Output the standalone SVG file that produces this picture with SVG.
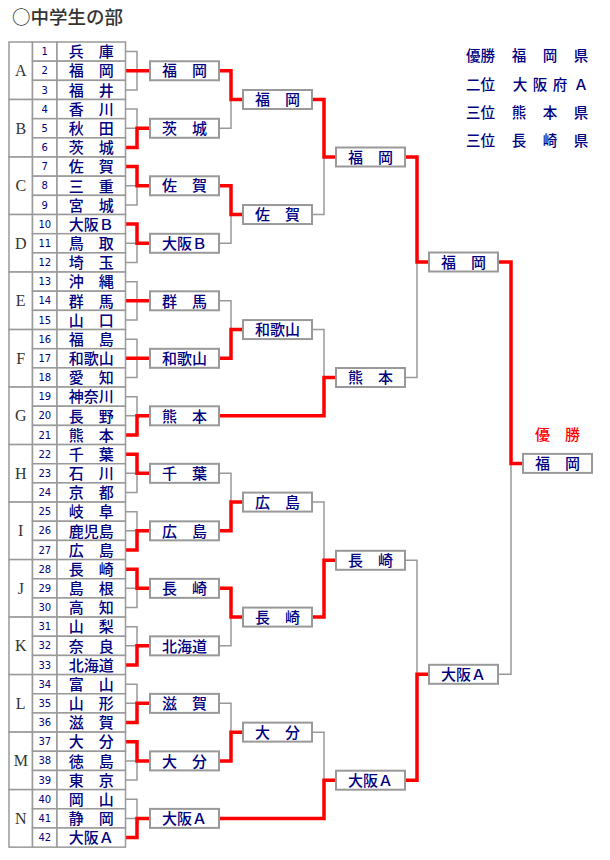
<svg xmlns="http://www.w3.org/2000/svg" width="610" height="860" viewBox="0 0 610 860">
<style>
.cell{fill:#fff;stroke:#999;stroke-width:1.5}
.box{fill:#fff;stroke:#999;stroke-width:2}
.num{font-family:"DejaVu Sans",sans-serif;font-size:10px;fill:#000080;text-anchor:middle}
.nm{font-family:"Noto Sans CJK JP",sans-serif;font-size:15px;font-weight:500;fill:#000080;text-anchor:middle}
.let{font-family:"Liberation Serif",serif;font-size:16px;fill:#333;text-anchor:middle}
.leg{font-family:"Noto Sans CJK JP",sans-serif;font-size:14.5px;font-weight:500;fill:#000080}
.gray{fill:none;stroke:#999;stroke-width:1.5}
.red{fill:none;stroke:#f00;stroke-width:3.5}
</style>
<rect width="610" height="860" fill="#fff"/>
<text x="12" y="23.5" style="font-family:'Noto Sans CJK JP',sans-serif;font-size:18.5px;font-weight:500;fill:#333">○中学生の部</text>

<g id="legend">
<text class="leg" x="466" y="61">優勝</text><text class="leg" text-anchor="middle" x="519 550 581" y="61">福岡県</text>
<text class="leg" x="466" y="89.5">二位</text><text class="leg" text-anchor="middle" x="520 540 560 581" y="89.5">大阪府Ａ</text>
<text class="leg" x="466" y="117.5">三位</text><text class="leg" text-anchor="middle" x="519 550 581" y="117.5">熊本県</text>
<text class="leg" x="466" y="146">三位</text><text class="leg" text-anchor="middle" x="519 550 581" y="146">長崎県</text>
</g>

<g id="connectors">
<path class="gray" d="M125.5,51.59H137V89.93H125.5M125.5,70.76H137M125.5,109.1H137V147.44H125.5M125.5,128.27H137M125.5,166.61H137V204.95H125.5M125.5,185.78H137M125.5,224.12H137V262.46H125.5M125.5,243.29H137M125.5,281.63H137V319.97H125.5M125.5,300.8H137M125.5,339.14H137V377.48H125.5M125.5,358.31H137M125.5,396.65H137V434.99H125.5M125.5,415.82H137M125.5,454.16H137V492.5H125.5M125.5,473.33H137M125.5,511.67H137V550.01H125.5M125.5,530.84H137M125.5,569.18H137V607.52H125.5M125.5,588.35H137M125.5,626.69H137V665.03H125.5M125.5,645.86H137M125.5,684.2H137V722.54H125.5M125.5,703.37H137M125.5,741.71H137V780.05H125.5M125.5,760.88H137M125.5,799.22H137V837.56H125.5M125.5,818.39H137"/>
<path class="gray" d="M219,70.76H231V128.27H219M219,185.78H231V243.29H219M219,300.8H231V358.31H219M219,473.33H231V530.84H219M219,588.35H231V645.86H219M219,703.37H231V760.88H219"/>
<path class="gray" d="M312,99.52H324V214.54H312M312,329.56H324V377.5M312,502.09H324V617.1H312M312,732.13H324V780.2"/>
<path class="gray" d="M405,157H417V377.5H405M405,560.3H417V780.2H405M498,262H511V674.3H498"/>
<path class="red" d="M125.5,70.76H150M125.5,147.44H137V128.27H150M125.5,166.61H137V185.78H150M125.5,224.12H137V243.29H150M125.5,300.8H150M125.5,358.31H150M125.5,434.99H137V415.82H150M125.5,454.16H137V473.33H150M125.5,550.01H137V530.84H150M125.5,569.18H137V588.35H150M125.5,665.03H137V645.86H150M125.5,722.54H137V703.37H150M125.5,741.71H137V760.88H150M125.5,837.56H137V818.39H150"/>
<path class="red" d="M219,70.76H231V99.52H243M219,185.78H231V214.54H243M219,358.31H231V329.56H243M219,530.84H231V502.09H243M219,588.35H231V617.1H243M219,760.88H231V732.13H243"/>
<path class="red" d="M312,99.52H324V157H336M219,415.82H324V377.5H336M312,617.1H324V560.3H336M219,818.39H324V780.2H336"/>
<path class="red" d="M405,157H417V262H429M405,780.2H417V674.3H429M498,262H511V463.4H523"/>
</g>

<g id="pool-A" transform="translate(0,42)">
<rect class="cell" x="9" width="23.5" height="57.51"/><text class="let" x="20.75" y="34.3">A</text>
<g><rect class="cell" x="32.5" width="24.5" height="19.17"/><rect class="cell" x="57" width="68.5" height="19.17"/><text class="num" x="44.75" y="13.2">1</text><text class="nm" x="91.25" y="15.3">兵　庫</text></g>
<g transform="translate(0,19.17)"><rect class="cell" x="32.5" width="24.5" height="19.17"/><rect class="cell" x="57" width="68.5" height="19.17"/><text class="num" x="44.75" y="13.2">2</text><text class="nm" x="91.25" y="15.3">福　岡</text></g>
<g transform="translate(0,38.34)"><rect class="cell" x="32.5" width="24.5" height="19.17"/><rect class="cell" x="57" width="68.5" height="19.17"/><text class="num" x="44.75" y="13.2">3</text><text class="nm" x="91.25" y="15.3">福　井</text></g>
</g>
<g id="pool-B" transform="translate(0,99.51)">
<rect class="cell" x="9" width="23.5" height="57.51"/><text class="let" x="20.75" y="34.3">B</text>
<g><rect class="cell" x="32.5" width="24.5" height="19.17"/><rect class="cell" x="57" width="68.5" height="19.17"/><text class="num" x="44.75" y="13.2">4</text><text class="nm" x="91.25" y="15.3">香　川</text></g>
<g transform="translate(0,19.17)"><rect class="cell" x="32.5" width="24.5" height="19.17"/><rect class="cell" x="57" width="68.5" height="19.17"/><text class="num" x="44.75" y="13.2">5</text><text class="nm" x="91.25" y="15.3">秋　田</text></g>
<g transform="translate(0,38.34)"><rect class="cell" x="32.5" width="24.5" height="19.17"/><rect class="cell" x="57" width="68.5" height="19.17"/><text class="num" x="44.75" y="13.2">6</text><text class="nm" x="91.25" y="15.3">茨　城</text></g>
</g>
<g id="pool-C" transform="translate(0,157.02)">
<rect class="cell" x="9" width="23.5" height="57.51"/><text class="let" x="20.75" y="34.3">C</text>
<g><rect class="cell" x="32.5" width="24.5" height="19.17"/><rect class="cell" x="57" width="68.5" height="19.17"/><text class="num" x="44.75" y="13.2">7</text><text class="nm" x="91.25" y="15.3">佐　賀</text></g>
<g transform="translate(0,19.17)"><rect class="cell" x="32.5" width="24.5" height="19.17"/><rect class="cell" x="57" width="68.5" height="19.17"/><text class="num" x="44.75" y="13.2">8</text><text class="nm" x="91.25" y="15.3">三　重</text></g>
<g transform="translate(0,38.34)"><rect class="cell" x="32.5" width="24.5" height="19.17"/><rect class="cell" x="57" width="68.5" height="19.17"/><text class="num" x="44.75" y="13.2">9</text><text class="nm" x="91.25" y="15.3">宮　城</text></g>
</g>
<g id="pool-D" transform="translate(0,214.53)">
<rect class="cell" x="9" width="23.5" height="57.51"/><text class="let" x="20.75" y="34.3">D</text>
<g><rect class="cell" x="32.5" width="24.5" height="19.17"/><rect class="cell" x="57" width="68.5" height="19.17"/><text class="num" x="44.75" y="13.2">10</text><text class="nm" x="91.25" y="15.3">大阪Ｂ</text></g>
<g transform="translate(0,19.17)"><rect class="cell" x="32.5" width="24.5" height="19.17"/><rect class="cell" x="57" width="68.5" height="19.17"/><text class="num" x="44.75" y="13.2">11</text><text class="nm" x="91.25" y="15.3">鳥　取</text></g>
<g transform="translate(0,38.34)"><rect class="cell" x="32.5" width="24.5" height="19.17"/><rect class="cell" x="57" width="68.5" height="19.17"/><text class="num" x="44.75" y="13.2">12</text><text class="nm" x="91.25" y="15.3">埼　玉</text></g>
</g>
<g id="pool-E" transform="translate(0,272.04)">
<rect class="cell" x="9" width="23.5" height="57.51"/><text class="let" x="20.75" y="34.3">E</text>
<g><rect class="cell" x="32.5" width="24.5" height="19.17"/><rect class="cell" x="57" width="68.5" height="19.17"/><text class="num" x="44.75" y="13.2">13</text><text class="nm" x="91.25" y="15.3">沖　縄</text></g>
<g transform="translate(0,19.17)"><rect class="cell" x="32.5" width="24.5" height="19.17"/><rect class="cell" x="57" width="68.5" height="19.17"/><text class="num" x="44.75" y="13.2">14</text><text class="nm" x="91.25" y="15.3">群　馬</text></g>
<g transform="translate(0,38.34)"><rect class="cell" x="32.5" width="24.5" height="19.17"/><rect class="cell" x="57" width="68.5" height="19.17"/><text class="num" x="44.75" y="13.2">15</text><text class="nm" x="91.25" y="15.3">山　口</text></g>
</g>
<g id="pool-F" transform="translate(0,329.55)">
<rect class="cell" x="9" width="23.5" height="57.51"/><text class="let" x="20.75" y="34.3">F</text>
<g><rect class="cell" x="32.5" width="24.5" height="19.17"/><rect class="cell" x="57" width="68.5" height="19.17"/><text class="num" x="44.75" y="13.2">16</text><text class="nm" x="91.25" y="15.3">福　島</text></g>
<g transform="translate(0,19.17)"><rect class="cell" x="32.5" width="24.5" height="19.17"/><rect class="cell" x="57" width="68.5" height="19.17"/><text class="num" x="44.75" y="13.2">17</text><text class="nm" x="91.25" y="15.3">和歌山</text></g>
<g transform="translate(0,38.34)"><rect class="cell" x="32.5" width="24.5" height="19.17"/><rect class="cell" x="57" width="68.5" height="19.17"/><text class="num" x="44.75" y="13.2">18</text><text class="nm" x="91.25" y="15.3">愛　知</text></g>
</g>
<g id="pool-G" transform="translate(0,387.06)">
<rect class="cell" x="9" width="23.5" height="57.51"/><text class="let" x="20.75" y="34.3">G</text>
<g><rect class="cell" x="32.5" width="24.5" height="19.17"/><rect class="cell" x="57" width="68.5" height="19.17"/><text class="num" x="44.75" y="13.2">19</text><text class="nm" x="91.25" y="15.3">神奈川</text></g>
<g transform="translate(0,19.17)"><rect class="cell" x="32.5" width="24.5" height="19.17"/><rect class="cell" x="57" width="68.5" height="19.17"/><text class="num" x="44.75" y="13.2">20</text><text class="nm" x="91.25" y="15.3">長　野</text></g>
<g transform="translate(0,38.34)"><rect class="cell" x="32.5" width="24.5" height="19.17"/><rect class="cell" x="57" width="68.5" height="19.17"/><text class="num" x="44.75" y="13.2">21</text><text class="nm" x="91.25" y="15.3">熊　本</text></g>
</g>
<g id="pool-H" transform="translate(0,444.57)">
<rect class="cell" x="9" width="23.5" height="57.51"/><text class="let" x="20.75" y="34.3">H</text>
<g><rect class="cell" x="32.5" width="24.5" height="19.17"/><rect class="cell" x="57" width="68.5" height="19.17"/><text class="num" x="44.75" y="13.2">22</text><text class="nm" x="91.25" y="15.3">千　葉</text></g>
<g transform="translate(0,19.17)"><rect class="cell" x="32.5" width="24.5" height="19.17"/><rect class="cell" x="57" width="68.5" height="19.17"/><text class="num" x="44.75" y="13.2">23</text><text class="nm" x="91.25" y="15.3">石　川</text></g>
<g transform="translate(0,38.34)"><rect class="cell" x="32.5" width="24.5" height="19.17"/><rect class="cell" x="57" width="68.5" height="19.17"/><text class="num" x="44.75" y="13.2">24</text><text class="nm" x="91.25" y="15.3">京　都</text></g>
</g>
<g id="pool-I" transform="translate(0,502.08)">
<rect class="cell" x="9" width="23.5" height="57.51"/><text class="let" x="20.75" y="34.3">I</text>
<g><rect class="cell" x="32.5" width="24.5" height="19.17"/><rect class="cell" x="57" width="68.5" height="19.17"/><text class="num" x="44.75" y="13.2">25</text><text class="nm" x="91.25" y="15.3">岐　阜</text></g>
<g transform="translate(0,19.17)"><rect class="cell" x="32.5" width="24.5" height="19.17"/><rect class="cell" x="57" width="68.5" height="19.17"/><text class="num" x="44.75" y="13.2">26</text><text class="nm" x="91.25" y="15.3">鹿児島</text></g>
<g transform="translate(0,38.34)"><rect class="cell" x="32.5" width="24.5" height="19.17"/><rect class="cell" x="57" width="68.5" height="19.17"/><text class="num" x="44.75" y="13.2">27</text><text class="nm" x="91.25" y="15.3">広　島</text></g>
</g>
<g id="pool-J" transform="translate(0,559.59)">
<rect class="cell" x="9" width="23.5" height="57.51"/><text class="let" x="20.75" y="34.3">J</text>
<g><rect class="cell" x="32.5" width="24.5" height="19.17"/><rect class="cell" x="57" width="68.5" height="19.17"/><text class="num" x="44.75" y="13.2">28</text><text class="nm" x="91.25" y="15.3">長　崎</text></g>
<g transform="translate(0,19.17)"><rect class="cell" x="32.5" width="24.5" height="19.17"/><rect class="cell" x="57" width="68.5" height="19.17"/><text class="num" x="44.75" y="13.2">29</text><text class="nm" x="91.25" y="15.3">島　根</text></g>
<g transform="translate(0,38.34)"><rect class="cell" x="32.5" width="24.5" height="19.17"/><rect class="cell" x="57" width="68.5" height="19.17"/><text class="num" x="44.75" y="13.2">30</text><text class="nm" x="91.25" y="15.3">高　知</text></g>
</g>
<g id="pool-K" transform="translate(0,617.1)">
<rect class="cell" x="9" width="23.5" height="57.51"/><text class="let" x="20.75" y="34.3">K</text>
<g><rect class="cell" x="32.5" width="24.5" height="19.17"/><rect class="cell" x="57" width="68.5" height="19.17"/><text class="num" x="44.75" y="13.2">31</text><text class="nm" x="91.25" y="15.3">山　梨</text></g>
<g transform="translate(0,19.17)"><rect class="cell" x="32.5" width="24.5" height="19.17"/><rect class="cell" x="57" width="68.5" height="19.17"/><text class="num" x="44.75" y="13.2">32</text><text class="nm" x="91.25" y="15.3">奈　良</text></g>
<g transform="translate(0,38.34)"><rect class="cell" x="32.5" width="24.5" height="19.17"/><rect class="cell" x="57" width="68.5" height="19.17"/><text class="num" x="44.75" y="13.2">33</text><text class="nm" x="91.25" y="15.3">北海道</text></g>
</g>
<g id="pool-L" transform="translate(0,674.61)">
<rect class="cell" x="9" width="23.5" height="57.51"/><text class="let" x="20.75" y="34.3">L</text>
<g><rect class="cell" x="32.5" width="24.5" height="19.17"/><rect class="cell" x="57" width="68.5" height="19.17"/><text class="num" x="44.75" y="13.2">34</text><text class="nm" x="91.25" y="15.3">富　山</text></g>
<g transform="translate(0,19.17)"><rect class="cell" x="32.5" width="24.5" height="19.17"/><rect class="cell" x="57" width="68.5" height="19.17"/><text class="num" x="44.75" y="13.2">35</text><text class="nm" x="91.25" y="15.3">山　形</text></g>
<g transform="translate(0,38.34)"><rect class="cell" x="32.5" width="24.5" height="19.17"/><rect class="cell" x="57" width="68.5" height="19.17"/><text class="num" x="44.75" y="13.2">36</text><text class="nm" x="91.25" y="15.3">滋　賀</text></g>
</g>
<g id="pool-M" transform="translate(0,732.12)">
<rect class="cell" x="9" width="23.5" height="57.51"/><text class="let" x="20.75" y="34.3">M</text>
<g><rect class="cell" x="32.5" width="24.5" height="19.17"/><rect class="cell" x="57" width="68.5" height="19.17"/><text class="num" x="44.75" y="13.2">37</text><text class="nm" x="91.25" y="15.3">大　分</text></g>
<g transform="translate(0,19.17)"><rect class="cell" x="32.5" width="24.5" height="19.17"/><rect class="cell" x="57" width="68.5" height="19.17"/><text class="num" x="44.75" y="13.2">38</text><text class="nm" x="91.25" y="15.3">徳　島</text></g>
<g transform="translate(0,38.34)"><rect class="cell" x="32.5" width="24.5" height="19.17"/><rect class="cell" x="57" width="68.5" height="19.17"/><text class="num" x="44.75" y="13.2">39</text><text class="nm" x="91.25" y="15.3">東　京</text></g>
</g>
<g id="pool-N" transform="translate(0,789.63)">
<rect class="cell" x="9" width="23.5" height="57.51"/><text class="let" x="20.75" y="34.3">N</text>
<g><rect class="cell" x="32.5" width="24.5" height="19.17"/><rect class="cell" x="57" width="68.5" height="19.17"/><text class="num" x="44.75" y="13.2">40</text><text class="nm" x="91.25" y="15.3">岡　山</text></g>
<g transform="translate(0,19.17)"><rect class="cell" x="32.5" width="24.5" height="19.17"/><rect class="cell" x="57" width="68.5" height="19.17"/><text class="num" x="44.75" y="13.2">41</text><text class="nm" x="91.25" y="15.3">静　岡</text></g>
<g transform="translate(0,38.34)"><rect class="cell" x="32.5" width="24.5" height="19.17"/><rect class="cell" x="57" width="68.5" height="19.17"/><text class="num" x="44.75" y="13.2">42</text><text class="nm" x="91.25" y="15.3">大阪Ａ</text></g>
</g>

<g id="r1-A" transform="translate(150,70.76)"><rect class="box" y="-9.5" width="69" height="19"/><text class="nm" x="34.5" y="5.7">福　岡</text></g>
<g id="r1-B" transform="translate(150,128.27)"><rect class="box" y="-9.5" width="69" height="19"/><text class="nm" x="34.5" y="5.7">茨　城</text></g>
<g id="r1-C" transform="translate(150,185.78)"><rect class="box" y="-9.5" width="69" height="19"/><text class="nm" x="34.5" y="5.7">佐　賀</text></g>
<g id="r1-D" transform="translate(150,243.29)"><rect class="box" y="-9.5" width="69" height="19"/><text class="nm" x="34.5" y="5.7">大阪Ｂ</text></g>
<g id="r1-E" transform="translate(150,300.8)"><rect class="box" y="-9.5" width="69" height="19"/><text class="nm" x="34.5" y="5.7">群　馬</text></g>
<g id="r1-F" transform="translate(150,358.31)"><rect class="box" y="-9.5" width="69" height="19"/><text class="nm" x="34.5" y="5.7">和歌山</text></g>
<g id="r1-G" transform="translate(150,415.82)"><rect class="box" y="-9.5" width="69" height="19"/><text class="nm" x="34.5" y="5.7">熊　本</text></g>
<g id="r1-H" transform="translate(150,473.33)"><rect class="box" y="-9.5" width="69" height="19"/><text class="nm" x="34.5" y="5.7">千　葉</text></g>
<g id="r1-I" transform="translate(150,530.84)"><rect class="box" y="-9.5" width="69" height="19"/><text class="nm" x="34.5" y="5.7">広　島</text></g>
<g id="r1-J" transform="translate(150,588.35)"><rect class="box" y="-9.5" width="69" height="19"/><text class="nm" x="34.5" y="5.7">長　崎</text></g>
<g id="r1-K" transform="translate(150,645.86)"><rect class="box" y="-9.5" width="69" height="19"/><text class="nm" x="34.5" y="5.7">北海道</text></g>
<g id="r1-L" transform="translate(150,703.37)"><rect class="box" y="-9.5" width="69" height="19"/><text class="nm" x="34.5" y="5.7">滋　賀</text></g>
<g id="r1-M" transform="translate(150,760.88)"><rect class="box" y="-9.5" width="69" height="19"/><text class="nm" x="34.5" y="5.7">大　分</text></g>
<g id="r1-N" transform="translate(150,818.39)"><rect class="box" y="-9.5" width="69" height="19"/><text class="nm" x="34.5" y="5.7">大阪Ａ</text></g>

<g id="r2-AB" transform="translate(243,99.52)"><rect class="box" y="-9.5" width="69" height="19"/><text class="nm" x="34.5" y="5.7">福　岡</text></g>
<g id="r2-CD" transform="translate(243,214.54)"><rect class="box" y="-9.5" width="69" height="19"/><text class="nm" x="34.5" y="5.7">佐　賀</text></g>
<g id="r2-EF" transform="translate(243,329.56)"><rect class="box" y="-9.5" width="69" height="19"/><text class="nm" x="34.5" y="5.7">和歌山</text></g>
<g id="r2-HI" transform="translate(243,502.09)"><rect class="box" y="-9.5" width="69" height="19"/><text class="nm" x="34.5" y="5.7">広　島</text></g>
<g id="r2-JK" transform="translate(243,617.1)"><rect class="box" y="-9.5" width="69" height="19"/><text class="nm" x="34.5" y="5.7">長　崎</text></g>
<g id="r2-LM" transform="translate(243,732.13)"><rect class="box" y="-9.5" width="69" height="19"/><text class="nm" x="34.5" y="5.7">大　分</text></g>

<g id="r3-1" transform="translate(336,157)"><rect class="box" y="-9.5" width="69" height="19"/><text class="nm" x="34.5" y="5.7">福　岡</text></g>
<g id="r3-2" transform="translate(336,377.5)"><rect class="box" y="-9.5" width="69" height="19"/><text class="nm" x="34.5" y="5.7">熊　本</text></g>
<g id="r3-3" transform="translate(336,560.3)"><rect class="box" y="-9.5" width="69" height="19"/><text class="nm" x="34.5" y="5.7">長　崎</text></g>
<g id="r3-4" transform="translate(336,780.2)"><rect class="box" y="-9.5" width="69" height="19"/><text class="nm" x="34.5" y="5.7">大阪Ａ</text></g>

<g id="r4-1" transform="translate(429,262)"><rect class="box" y="-9.5" width="69" height="19"/><text class="nm" x="34.5" y="5.7">福　岡</text></g>
<g id="r4-2" transform="translate(429,674.3)"><rect class="box" y="-9.5" width="69" height="19"/><text class="nm" x="34.5" y="5.7">大阪Ａ</text></g>

<g id="final" transform="translate(523,463.4)"><text class="nm" x="34.5" y="-23.7" style="fill:#f00">優　勝</text><rect class="box" y="-9.5" width="69" height="19"/><text class="nm" x="34.5" y="5.7">福　岡</text></g>
</svg>
